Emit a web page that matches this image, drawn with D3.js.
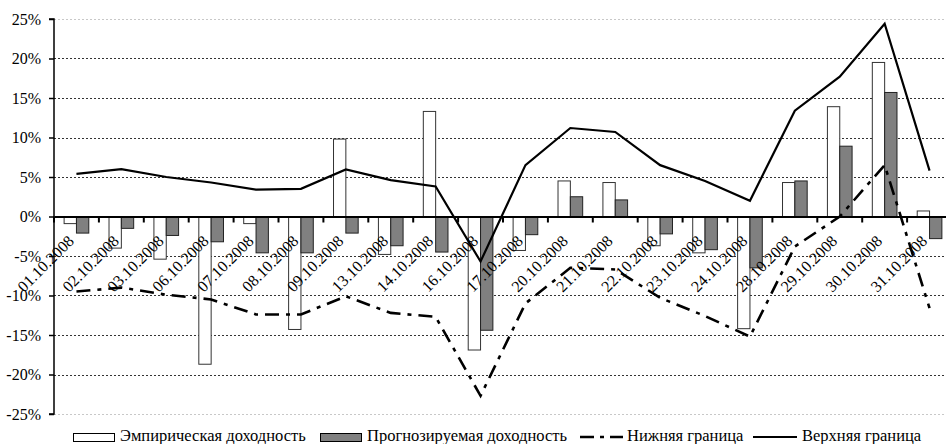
<!DOCTYPE html>
<html>
<head>
<meta charset="utf-8">
<script src="https://cdn.jsdelivr.net/npm/d3@7"></script>
<style>
html,body{margin:0;padding:0;background:#fff;}
svg{display:block;font-family:"Liberation Serif","Times New Roman",serif;}
svg text{font-family:"Liberation Serif","Times New Roman",serif;}
</style>
</head>
<body>
<svg id="chart" width="946" height="444"></svg>
<script>
const categories = ["01.10.2008","02.10.2008","03.10.2008","06.10.2008","07.10.2008","08.10.2008","09.10.2008","13.10.2008","14.10.2008","16.10.2008","17.10.2008","20.10.2008","21.10.2008","22.10.2008","23.10.2008","24.10.2008","28.10.2008","29.10.2008","30.10.2008","31.10.2008"];
const empirical = [-0.9,-4.0,-5.4,-18.7,-0.9,-14.3,9.8,-4.8,13.3,-16.9,-4.3,4.5,4.3,-3.7,-4.6,-14.2,4.3,13.9,19.5,0.7];
const forecast  = [-2.1,-1.5,-2.4,-3.2,-4.6,-4.6,-2.1,-3.7,-4.5,-14.4,-2.3,2.5,2.1,-2.2,-4.2,-6.5,4.5,8.9,15.7,-2.8];
const lowerBound = [-9.5,-9.0,-9.9,-10.5,-12.4,-12.4,-10.1,-12.2,-12.7,-22.7,-11.0,-6.5,-6.7,-10.3,-12.6,-15.2,-3.8,0.0,6.5,-11.6];
const upperBound = [5.4,6.0,5.0,4.3,3.4,3.5,5.95,4.6,3.8,-5.7,6.5,11.2,10.7,6.5,4.5,2.0,13.4,17.7,24.4,5.8];
const yTicks = [-25,-20,-15,-10,-5,0,5,10,15,20,25];
const seriesNames = ["Эмпирическая доходность","Прогнозируемая доходность","Нижняя граница","Верхняя граница"];

const svg = d3.select("#chart");
const pLeft = 54, pRight = 952, pTop = 19, pBottom = 414;

const x = d3.scaleBand().domain(categories).range([pLeft, pRight]).paddingInner(0).paddingOuter(0);
const xs = d3.scaleBand().domain(["emp","fc"]).range([0, x.bandwidth()]).paddingInner(0).paddingOuter(0.82);
const y = d3.scaleLinear().domain([-25, 25]).range([pBottom, pTop]);

// gridlines
svg.append("g").selectAll("line").data(yTicks.filter(d => d !== 0)).join("line")
  .attr("x1", pLeft).attr("x2", pRight)
  .attr("y1", d => Math.round(y(d)) + 0.5).attr("y2", d => Math.round(y(d)) + 0.5)
  .attr("stroke", d => Math.abs(d) === 25 ? "#c8c8c8" : "#333")
  .attr("stroke-width", 1)
  .attr("stroke-dasharray", "2,2");

// y axis
const yAxis = d3.axisLeft(y).tickValues(yTicks).tickSize(5).tickPadding(8).tickFormat(d => d + "%");
const gy = svg.append("g").attr("transform", `translate(${pLeft},0)`).call(yAxis);
gy.attr("font-family", null).attr("font-size", 16);
gy.select(".domain").attr("stroke", "#000").attr("stroke-width", 1.5).attr("d", `M-5,${y(25)}H0V${y(-25)}H-5`);
gy.selectAll(".tick line").attr("stroke", "#000").attr("stroke-width", 1.5);
gy.selectAll(".tick text").attr("fill", "#000");

// bars
const gBars = svg.append("g");
gBars.selectAll("rect.emp").data(categories).join("rect").attr("class", "emp")
  .attr("x", d => x(d) + xs("emp"))
  .attr("width", xs.bandwidth())
  .attr("y", (d, i) => y(Math.max(0, empirical[i])))
  .attr("height", (d, i) => Math.abs(y(empirical[i]) - y(0)))
  .attr("fill", "#fff").attr("stroke", "#333").attr("stroke-width", 1);
gBars.selectAll("rect.fc").data(categories).join("rect").attr("class", "fc")
  .attr("x", d => x(d) + xs("fc"))
  .attr("width", xs.bandwidth())
  .attr("y", (d, i) => y(Math.max(0, forecast[i])))
  .attr("height", (d, i) => Math.abs(y(forecast[i]) - y(0)))
  .attr("fill", "#808080").attr("stroke", "#222").attr("stroke-width", 1);

// x axis at zero
const xAxis = d3.axisBottom(x).tickSize(0).tickFormat("");
const gx = svg.append("g").attr("transform", `translate(0,${y(0)})`).call(xAxis);
gx.select(".domain").attr("stroke", "#000").attr("stroke-width", 2.2);
gx.selectAll(".tick").remove();
gx.selectAll("line.bt").data(categories.concat(["__end"])).join("line").attr("class", "bt")
  .attr("x1", (d, i) => i < categories.length ? x(d) : pRight)
  .attr("x2", (d, i) => i < categories.length ? x(d) : pRight)
  .attr("y1", 0).attr("y2", 6).attr("stroke", "#000").attr("stroke-width", 2);

// category labels
svg.append("g").selectAll("text").data(categories).join("text")
  .attr("transform", d => `translate(${x(d) + x.bandwidth() / 2 - 1.5},${y(0) + 25.5}) rotate(-45)`)
  .attr("text-anchor", "end")
  .attr("font-size", 16)
  .attr("fill", "#000")
  .text(d => d);

// lines
const cx = d => x(d) + x.bandwidth() / 2;
const lineGen = d3.line().x((d, i) => cx(categories[i])).y(d => y(d));
svg.append("path").datum(lowerBound).attr("d", lineGen)
  .attr("fill", "none").attr("stroke", "#000").attr("stroke-width", 2.6)
  .attr("stroke-dasharray", "14,7,4,7");
svg.append("path").datum(upperBound).attr("d", lineGen)
  .attr("fill", "none").attr("stroke", "#000").attr("stroke-width", 2.2);

// legend
const lg = svg.append("g").attr("font-size", 16.5).attr("fill", "#000");
lg.append("rect").attr("x", 73.5).attr("y", 433.5).attr("width", 41).attr("height", 8)
  .attr("fill", "#fff").attr("stroke", "#000");
lg.append("text").attr("x", 120).attr("y", 440.5).text(seriesNames[0]);
lg.append("rect").attr("x", 320.5).attr("y", 433.5).attr("width", 41).attr("height", 8)
  .attr("fill", "#808080").attr("stroke", "#000");
lg.append("text").attr("x", 367).attr("y", 440.5).text(seriesNames[1]);
lg.append("line").attr("x1", 580).attr("x2", 623).attr("y1", 437).attr("y2", 437)
  .attr("stroke", "#000").attr("stroke-width", 2.6).attr("stroke-dasharray", "14,6,4,6");
lg.append("text").attr("x", 627).attr("y", 440.5).text(seriesNames[2]);
lg.append("line").attr("x1", 753).attr("x2", 797).attr("y1", 437).attr("y2", 437)
  .attr("stroke", "#000").attr("stroke-width", 2);
lg.append("text").attr("x", 802).attr("y", 440.5).text(seriesNames[3]);
</script>
</body>
</html>
